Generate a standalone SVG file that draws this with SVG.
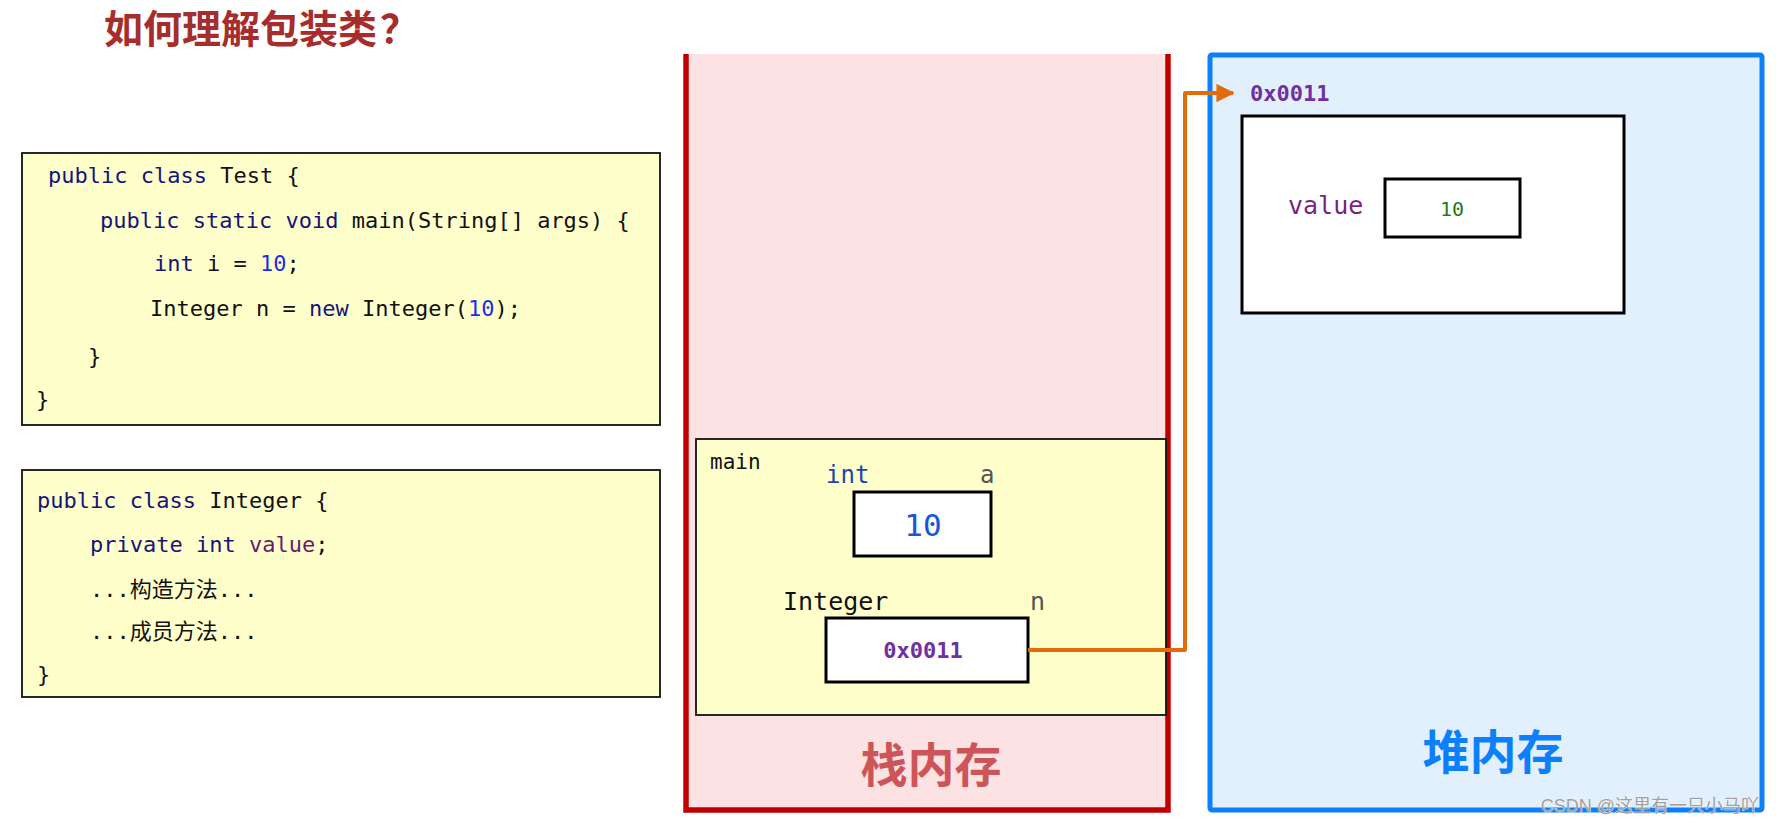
<svg xmlns="http://www.w3.org/2000/svg" width="1776" height="824" viewBox="0 0 1776 824">
<style>
.code{font-family:"DejaVu Sans Mono","Noto Sans CJK SC",monospace;font-size:22px;fill:#111}
.kw{fill:#15157a}
.num{fill:#1e2ee6}
.fld{fill:#6a1b6e}
.codebox{fill:#ffffcc;stroke:#111;stroke-width:1.8}
.cell{fill:#fff;stroke:#000;stroke-width:3}
.mono{font-family:"DejaVu Sans Mono",monospace}
.addr{font-family:"DejaVu Sans Mono",monospace;font-weight:bold;font-size:22px;fill:#7030a0}
.big{font-family:"Noto Sans CJK SC","Noto Sans",sans-serif;font-weight:bold;font-size:47px;text-anchor:middle}
</style>
<defs>
<marker id="arrow" viewBox="0 0 10 10" refX="9" refY="5" markerWidth="4.6" markerHeight="4.6" orient="auto" markerUnits="strokeWidth">
<path d="M0,0 L10,5 L0,10 Z" fill="#e36c0a"/>
</marker>
</defs>
<rect width="1776" height="824" fill="#fff"/>

<g id="title">
<text x="104" y="43" font-family="Noto Sans CJK SC, sans-serif" font-weight="bold" font-size="39" fill="#a72d2d">如何理解包装类<tspan dx="3">？</tspan></text>
</g>

<g id="code-test">
<rect class="codebox" x="22" y="153" width="638" height="272"/>
<text class="code" x="48" y="183"><tspan class="kw">public</tspan> <tspan class="kw">class</tspan> Test {</text>
<text class="code" x="100" y="228"><tspan class="kw">public</tspan> <tspan class="kw">static</tspan> <tspan class="kw">void</tspan> main(String[] args) {</text>
<text class="code" x="154" y="271"><tspan class="kw">int</tspan> i = <tspan class="num">10</tspan>;</text>
<text class="code" x="150" y="316">Integer n = <tspan class="kw">new</tspan> Integer(<tspan class="num">10</tspan>);</text>
<text class="code" x="88" y="364">}</text>
<text class="code" x="36" y="407">}</text>
</g>

<g id="code-integer">
<rect class="codebox" x="22" y="470" width="638" height="227"/>
<text class="code" x="37" y="508"><tspan class="kw">public</tspan> <tspan class="kw">class</tspan> Integer {</text>
<text class="code" x="90" y="552"><tspan class="kw">private</tspan> <tspan class="kw">int</tspan> <tspan class="fld">value</tspan>;</text>
<text class="code" x="90" y="597">...构造方法...</text>
<text class="code" x="90" y="639">...成员方法...</text>
<text class="code" x="37" y="682">}</text>
</g>

<g id="stack">
<rect x="686" y="54" width="482" height="756" fill="#fde2e4"/>
<path d="M686,54 V810 H1168 V54" fill="none" stroke="#c00000" stroke-width="5.5"/>
<text class="big" x="931" y="782" fill="#cc5558">栈内存</text>
</g>

<g id="main-frame">
<rect x="696" y="439" width="470" height="276" fill="#ffffcc" stroke="#111" stroke-width="1.8"/>
<text class="mono" x="710" y="469" font-size="21" fill="#111">main</text>
</g>

<g id="var-a">
<text class="mono" x="826" y="483" font-size="24" fill="#1c45b0">int</text>
<text class="mono" x="980" y="483" font-size="24" fill="#555">a</text>
<rect class="cell" x="854" y="492" width="137" height="64"/>
<text class="mono" x="923" y="536" font-size="31" fill="#1a56d6" text-anchor="middle">10</text>
</g>

<g id="var-n">
<text class="mono" x="783" y="610" font-size="25" fill="#111">Integer</text>
<text class="mono" x="1030" y="610" font-size="25" fill="#555">n</text>
<rect class="cell" x="826" y="618" width="202" height="64"/>
<text class="addr" x="923" y="658" text-anchor="middle">0x0011</text>
</g>

<g id="heap">
<rect x="1210" y="55" width="552" height="755" rx="2" fill="#e2f0fd" stroke="#0b80fa" stroke-width="5"/>
<text class="big" x="1493" y="769" fill="#0b80fa">堆内存</text>
</g>

<g id="integer-object">
<text class="addr" x="1250" y="101">0x0011</text>
<rect class="cell" x="1242" y="116" width="382" height="197"/>
<text class="mono" x="1288" y="214" font-size="25" fill="#7b1f86">value</text>
<rect class="cell" x="1385" y="179" width="135" height="58" stroke-width="2.5"/>
<text class="mono" x="1452" y="216" font-size="20" fill="#1f7a1f" text-anchor="middle">10</text>
</g>

<g id="connectors">
<path d="M1028,650 H1185 V93 H1233" fill="none" stroke="#e36c0a" stroke-width="4" stroke-linejoin="round" marker-end="url(#arrow)"/>
</g>

<g id="watermark">
<text x="1759" y="812" text-anchor="end" font-family="Liberation Sans, Noto Sans CJK SC, sans-serif" font-size="18" fill="#a0a0a0" stroke="#fff" stroke-width="0.6" paint-order="stroke">CSDN @这里有一只小马吖</text>
</g>
</svg>
